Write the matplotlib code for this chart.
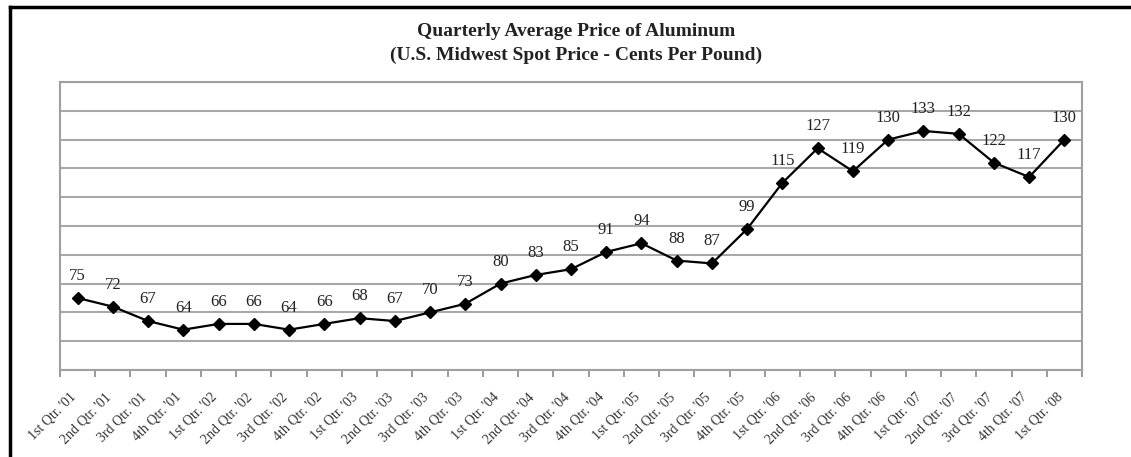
import numpy as np
import matplotlib
matplotlib.use("Agg")
import matplotlib.pyplot as plt
import matplotlib.transforms as mtransforms
from matplotlib.lines import Line2D

# quarterly average price, cents per pound
quarters = ["1st Qtr. '01", "2nd Qtr. '01", "3rd Qtr. '01", "4th Qtr. '01",
            "1st Qtr. '02", "2nd Qtr. '02", "3rd Qtr. '02", "4th Qtr. '02",
            "1st Qtr. '03", "2nd Qtr. '03", "3rd Qtr. '03", "4th Qtr. '03",
            "1st Qtr. '04", "2nd Qtr. '04", "3rd Qtr. '04", "4th Qtr. '04",
            "1st Qtr. '05", "2nd Qtr. '05", "3rd Qtr. '05", "4th Qtr. '05",
            "1st Qtr. '06", "2nd Qtr. '06", "3rd Qtr. '06", "4th Qtr. '06",
            "1st Qtr. '07", "2nd Qtr. '07", "3rd Qtr. '07", "4th Qtr. '07",
            "1st Qtr. '08"]
prices = [75, 72, 67, 64, 66, 66, 64, 66, 68, 67, 70, 73, 80, 83, 85, 91,
          94, 88, 87, 99, 115, 127, 119, 130, 133, 132, 122, 117, 130]

plt.rcParams['font.family'] = ['Liberation Serif', 'DejaVu Serif']

fig = plt.figure(figsize=(11.31, 4.57), dpi=100)
ax = fig.add_axes([60/1131, 1 - 370/457, (1082-60)/1131, (370-82)/457])

x = np.arange(len(prices))
ax.plot(x, prices, color='black', lw=1.6, marker='D', markersize=6.5, zorder=3)

for xi, v in zip(x, prices):
    ax.annotate(str(v), (xi, v), xytext=(0, 22), textcoords='offset pixels',
                ha='center', va='center', fontsize=12, color='#222222')

ax.set_xlim(-0.5, len(prices) - 0.5)
ax.set_ylim(50, 150)
ax.set_yticks(np.arange(50, 151, 10))
ax.set_yticklabels([])
ax.tick_params(axis='y', length=0)
ax.grid(axis='y', color='#a8a8a8', lw=1.5)
ax.set_axisbelow(True)

# category labels at centres, tick marks between categories
ax.set_xticks(x)
ax.set_xticklabels(quarters, rotation=45, ha='right', va='center',
                   rotation_mode='anchor', fontsize=10, color='#333333')
ax.tick_params(axis='x', which='major', length=0, pad=18)
shift = mtransforms.ScaledTranslation(-4/100, 0, fig.dpi_scale_trans)
for lbl in ax.get_xticklabels():
    lbl.set_transform(lbl.get_transform() + shift)
ax.set_xticks(np.arange(-0.5, len(prices)), minor=True)
ax.tick_params(axis='x', which='minor', length=5, width=1.2, color='#888888')

for s in ax.spines.values():
    s.set_color('#a0a0a0')
    s.set_linewidth(1.5)

fig.text(576/1131, 1 - 31/457, "Quarterly Average Price of Aluminum",
         ha='center', va='center', fontsize=14, fontweight='bold', color='#222222')
fig.text(576/1131, 1 - 55/457, "(U.S. Midwest Spot Price - Cents Per Pound)",
         ha='center', va='center', fontsize=14, fontweight='bold', color='#222222')

# outer frame, top and left only
fig.add_artist(Line2D([10/1131, 1], [1 - 7/457, 1 - 7/457], color='black', lw=2.5))
fig.add_artist(Line2D([10/1131, 10/1131], [0, 1 - 7/457], color='black', lw=2.5))

fig.savefig("out.png", dpi=100)
